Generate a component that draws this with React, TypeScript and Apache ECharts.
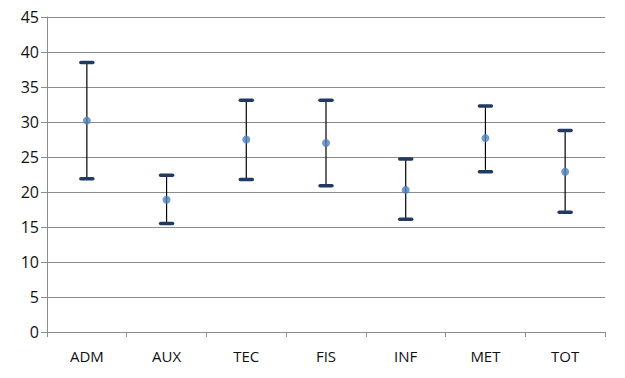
import React, { useEffect, useRef } from "react";
import * as echarts from "echarts";

const categories = ["ADM", "AUX", "TEC", "FIS", "INF", "MET", "TOT"];
const means = [30.2, 18.9, 27.5, 27.0, 20.3, 27.7, 22.9];
const lows = [21.9, 15.5, 21.8, 20.9, 16.1, 22.9, 17.1];
const highs = [38.5, 22.4, 33.1, 33.1, 24.7, 32.3, 28.8];
const yTicks = { min: 0, max: 45, interval: 5 };

export default function App() {
  const ref = useRef<HTMLDivElement>(null);
  useEffect(() => {
    if (!ref.current) return;
    const chart = echarts.init(ref.current, undefined, { renderer: "svg" });
    const font = "Open Sans, Liberation Sans, sans-serif";
    chart.setOption({
      animation: false,
      backgroundColor: "#ffffff",
      grid: { left: 47, right: 20, top: 17, bottom: 46, containLabel: false },
      xAxis: {
        type: "category",
        data: categories,
        boundaryGap: true,
        axisLine: { show: true, lineStyle: { color: "#8c8c8c", width: 1 } },
        axisTick: { show: true, length: 5, lineStyle: { color: "#8c8c8c" } },
        axisLabel: { color: "#111", fontSize: 15, fontFamily: font, margin: 16 },
        splitLine: { show: false },
      },
      yAxis: {
        type: "value",
        min: yTicks.min,
        max: yTicks.max,
        interval: yTicks.interval,
        axisLine: { show: true, lineStyle: { color: "#8c8c8c", width: 1 } },
        axisTick: { show: true, length: 6, lineStyle: { color: "#8c8c8c" } },
        axisLabel: { color: "#111", fontSize: 16, fontFamily: font, margin: 8 },
        splitLine: { show: true, lineStyle: { color: "#8c8c8c", width: 1 } },
      },
      series: [
        {
          type: "custom",
          data: categories.map((_, i) => [i, lows[i], highs[i]]),
          encode: { x: 0, y: [1, 2] },
          renderItem: (params: any, api: any) => {
            const x = api.value(0);
            const lo = api.coord([x, api.value(1)]);
            const hi = api.coord([x, api.value(2)]);
            const hw = 6;
            return {
              type: "group",
              children: [
                {
                  type: "line",
                  shape: { x1: lo[0], y1: lo[1], x2: hi[0], y2: hi[1] },
                  style: { stroke: "#000", lineWidth: 1.2 },
                },
                {
                  type: "line",
                  shape: { x1: hi[0] - hw, y1: hi[1], x2: hi[0] + hw, y2: hi[1] },
                  style: { stroke: "#1f3b63", lineWidth: 3.5, lineCap: "round" },
                },
                {
                  type: "line",
                  shape: { x1: lo[0] - hw, y1: lo[1], x2: lo[0] + hw, y2: lo[1] },
                  style: { stroke: "#1f3b63", lineWidth: 3.5, lineCap: "round" },
                },
              ],
            };
          },
          z: 2,
        },
        {
          type: "scatter",
          data: means,
          symbol: "circle",
          symbolSize: 8,
          itemStyle: { color: "#4f81bd" },
          z: 3,
        },
      ],
    });
    return () => chart.dispose();
  }, []);
  return <div ref={ref} style={{ width: 625, height: 378, position: "absolute", left: 0, top: 0 }} />;
}
